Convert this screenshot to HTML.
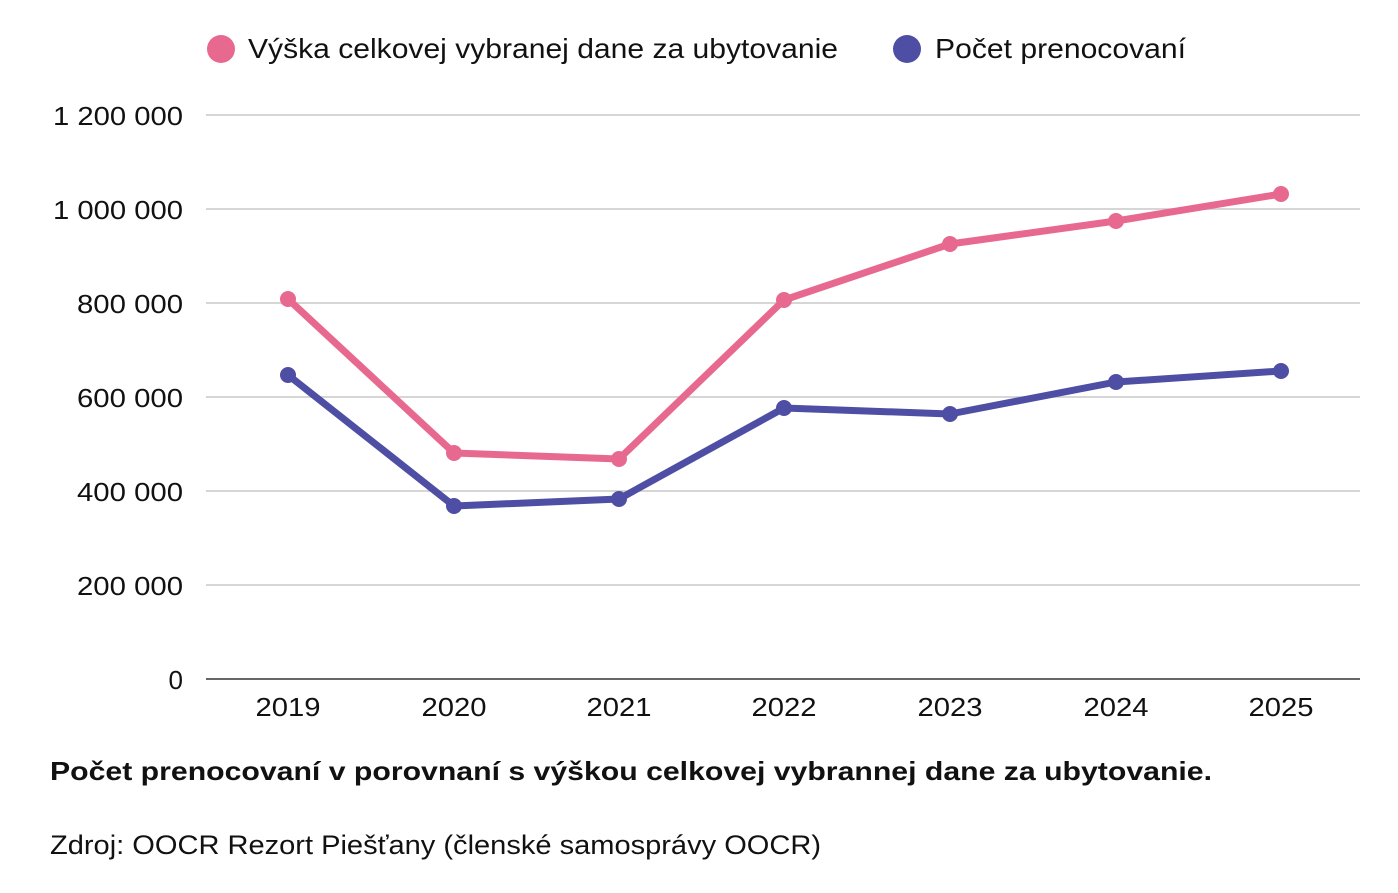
<!DOCTYPE html>
<html><head><meta charset="utf-8"><style>
body{margin:0;background:#fff;}
svg{display:block;font-family:"Liberation Sans",sans-serif;}
</style></head><body>
<svg width="1398" height="893" viewBox="0 0 1398 893">
<g stroke="#c8c8c8" stroke-width="1.5">
<line x1="206" y1="115" x2="1360" y2="115"/>
<line x1="206" y1="209" x2="1360" y2="209"/>
<line x1="206" y1="303" x2="1360" y2="303"/>
<line x1="206" y1="397" x2="1360" y2="397"/>
<line x1="206" y1="491" x2="1360" y2="491"/>
<line x1="206" y1="585" x2="1360" y2="585"/>
</g>
<line x1="206" y1="679" x2="1360" y2="679" stroke="#333" stroke-width="1.5"/>
<g font-size="26" fill="#111" text-anchor="end" lengthAdjust="spacingAndGlyphs">
<text x="183" y="125" textLength="130" lengthAdjust="spacingAndGlyphs">1 200 000</text>
<text x="183" y="219" textLength="130" lengthAdjust="spacingAndGlyphs">1 000 000</text>
<text x="183" y="313" textLength="106" lengthAdjust="spacingAndGlyphs">800 000</text>
<text x="183" y="407" textLength="106" lengthAdjust="spacingAndGlyphs">600 000</text>
<text x="183" y="501" textLength="106" lengthAdjust="spacingAndGlyphs">400 000</text>
<text x="183" y="595" textLength="106" lengthAdjust="spacingAndGlyphs">200 000</text>
<text x="183" y="689">0</text>
</g>
<g font-size="26" fill="#111" text-anchor="middle">
<text x="288" y="716" textLength="65" lengthAdjust="spacingAndGlyphs">2019</text><text x="454" y="716" textLength="65" lengthAdjust="spacingAndGlyphs">2020</text><text x="619" y="716" textLength="65" lengthAdjust="spacingAndGlyphs">2021</text>
<text x="784" y="716" textLength="65" lengthAdjust="spacingAndGlyphs">2022</text><text x="950" y="716" textLength="65" lengthAdjust="spacingAndGlyphs">2023</text><text x="1116" y="716" textLength="65" lengthAdjust="spacingAndGlyphs">2024</text><text x="1281" y="716" textLength="65" lengthAdjust="spacingAndGlyphs">2025</text>
</g>
<polyline fill="none" stroke="#e8698f" stroke-width="7" stroke-linejoin="round" points="288,299 454,453 619,459 784,300 950,244 1116,221 1281,194"/>
<g fill="#e8698f"><circle cx="288" cy="299" r="8"/><circle cx="454" cy="453" r="8"/><circle cx="619" cy="459" r="8"/><circle cx="784" cy="300" r="8"/><circle cx="950" cy="244" r="8"/><circle cx="1116" cy="221" r="8"/><circle cx="1281" cy="194" r="8"/></g>
<polyline fill="none" stroke="#4e4ea5" stroke-width="7" stroke-linejoin="round" points="288,375 454,506 619,499 784,408 950,414 1116,382 1281,371"/>
<g fill="#4e4ea5"><circle cx="288" cy="375" r="8"/><circle cx="454" cy="506" r="8"/><circle cx="619" cy="499" r="8"/><circle cx="784" cy="408" r="8"/><circle cx="950" cy="414" r="8"/><circle cx="1116" cy="382" r="8"/><circle cx="1281" cy="371" r="8"/></g>
<circle cx="221" cy="49" r="14" fill="#e8698f"/>
<text x="248" y="58" font-size="28" fill="#111" textLength="590" lengthAdjust="spacingAndGlyphs">Výška celkovej vybranej dane za ubytovanie</text>
<circle cx="907" cy="49" r="14" fill="#4e4ea5"/>
<text x="935" y="58" font-size="28" fill="#111" textLength="251" lengthAdjust="spacingAndGlyphs">Počet prenocovaní</text>
<text x="50" y="780" font-size="26" font-weight="bold" fill="#111" textLength="1162" lengthAdjust="spacingAndGlyphs">Počet prenocovaní v porovnaní s výškou celkovej vybrannej dane za ubytovanie.</text>
<text x="50" y="854" font-size="27" fill="#111" textLength="771" lengthAdjust="spacingAndGlyphs">Zdroj: OOCR Rezort Piešťany (členské samosprávy OOCR)</text>
</svg>
</body></html>
